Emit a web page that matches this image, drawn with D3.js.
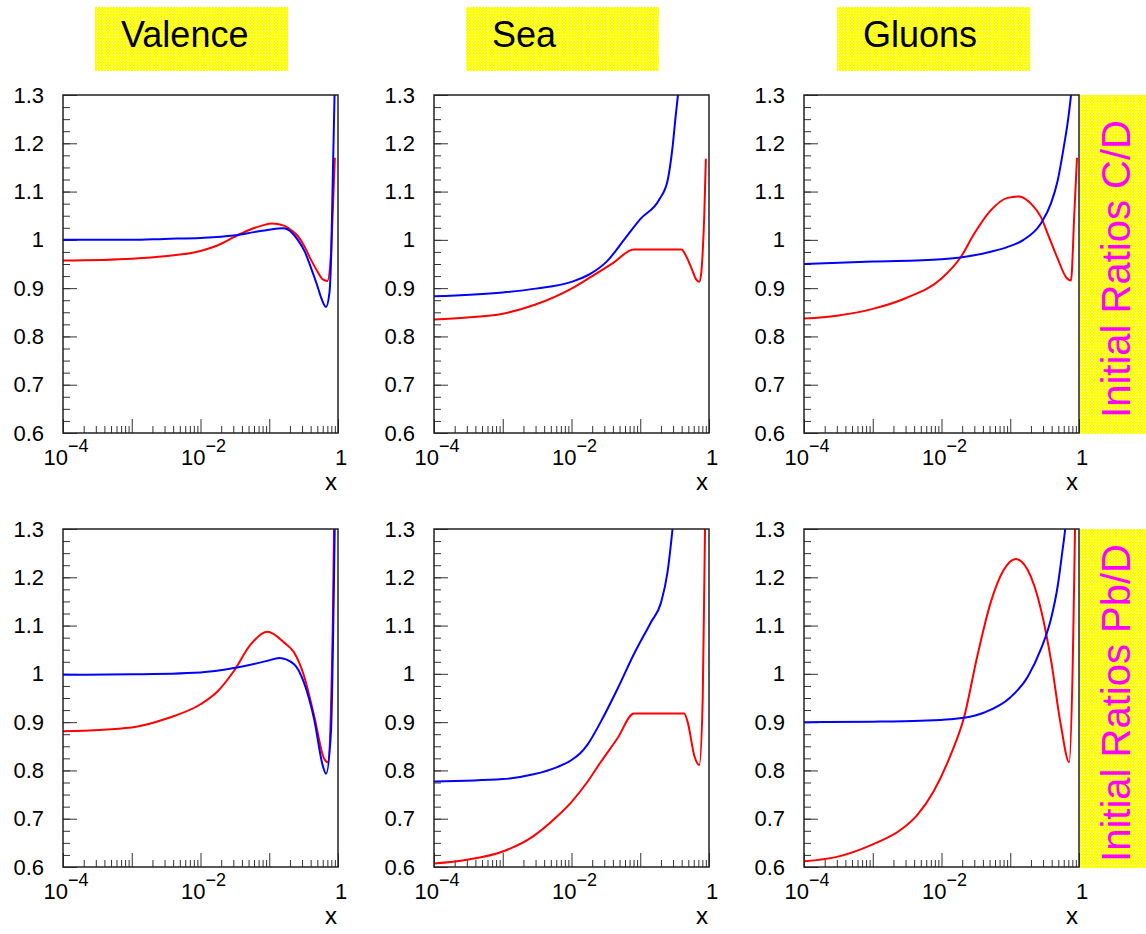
<html lang="en">
<head>
<meta charset="UTF-8">
<title>Initial Ratios</title>
<script src="https://cdn.jsdelivr.net/npm/d3@7"></script>
<style>
  body { margin:0; padding:0; background:#fff; }
  text { font-family: "Liberation Sans", Arial, sans-serif; fill:#000; }
</style>
</head>
<body>
<svg id="chart" width="1146" height="934"></svg>
<script>
// column titles / row labels
var columnTitles = ['Valence', 'Sea', 'Gluons']
var rowLabels = ['Initial Ratios C/D', 'Initial Ratios Pb/D']

// axis ranges and ticks
var xDomain = [1e-4, 1]
var yDomain = [0.6, 1.3]
var yMajor = [0.6, 0.7, 0.8, 0.9, 1.0, 1.1, 1.2, 1.3]
var xLabelled = [1e-4, 1e-2, 1]

// curves, [x, ratio]
var valenceCD_red = [[1e-4,0.957],[1e-3,0.961],[3e-3,0.966],[1e-2,0.977],[2e-2,0.992],[3e-2,1.005],[5e-2,1.02],[8e-2,1.03],[0.11,1.034],[0.16,1.03],[0.21,1.02],[0.26,1.008],[0.33,0.985],[0.4,0.96],[0.5,0.935],[0.6,0.918],[0.7,0.915],[0.79,0.97],[0.84,1.06],[0.9,1.17]]
var valenceCD_blue = [[1e-4,1.0],[1e-3,1.0],[3e-3,1.002],[1e-2,1.004],[3e-2,1.009],[6e-2,1.016],[0.1,1.021],[0.16,1.024],[0.21,1.016],[0.26,1.0],[0.33,0.975],[0.4,0.944],[0.5,0.905],[0.57,0.88],[0.67,0.861],[0.75,0.89],[0.8,0.98],[0.84,1.13],[0.9,1.33]]
var seaCD_red = [[1e-4,0.835],[3e-4,0.839],[1e-3,0.847],[3e-3,0.866],[1e-2,0.899],[2e-2,0.925],[4e-2,0.952],[0.081,0.98],[0.4,0.98],[0.45,0.97],[0.55,0.943],[0.65,0.918],[0.72,0.913],[0.77,0.93],[0.81,0.975],[0.855,1.054],[0.9,1.168]]
var seaCD_blue = [[1e-4,0.883],[1e-3,0.891],[3e-3,0.899],[1e-2,0.913],[1.9e-2,0.93],[3.3e-2,0.956],[5.8e-2,1.0],[0.1,1.043],[0.19,1.084],[0.25,1.123],[0.295,1.192],[0.33,1.261],[0.36,1.31]]
var gluonCD_red = [[1e-4,0.837],[3e-4,0.843],[1e-3,0.857],[3e-3,0.879],[1e-2,0.92],[1.9e-2,0.964],[3e-2,1.013],[5.2e-2,1.061],[9.1e-2,1.087],[0.135,1.09],[0.2,1.075],[0.28,1.047],[0.35,1.013],[0.49,0.961],[0.646,0.923],[0.764,0.916],[0.855,1.054],[0.935,1.17]]
var gluonCD_blue = [[1e-4,0.95],[1e-3,0.955],[1e-2,0.96],[2e-2,0.964],[3e-2,0.968],[5e-2,0.975],[9e-2,0.985],[0.156,1.0],[0.279,1.034],[0.39,1.075],[0.49,1.123],[0.6,1.192],[0.68,1.24],[0.76,1.296],[0.8,1.33]]
var valencePb_red = [[1e-4,0.881],[1e-3,0.889],[3.3e-3,0.908],[1e-2,0.937],[1.75e-2,0.963],[3.06e-2,1.006],[5.37e-2,1.061],[9.4e-2,1.087],[0.164,1.065],[0.23,1.044],[0.32,0.996],[0.45,0.913],[0.63,0.824],[0.706,0.817],[0.836,1.086],[0.88,1.32]]
var valencePb_blue = [[1e-4,0.998],[1e-3,0.999],[1e-2,1.003],[3.06e-2,1.012],[9.4e-2,1.027],[0.14,1.033],[0.23,1.02],[0.32,0.982],[0.45,0.906],[0.6,0.81],[0.67,0.793],[0.79,0.879],[0.88,1.223],[0.9,1.32]]
var seaPb_red = [[1e-4,0.607],[3e-4,0.615],[1e-3,0.632],[2.8e-3,0.664],[6.2e-3,0.705],[9.9e-3,0.734],[1.7e-2,0.776],[2.65e-2,0.817],[4.64e-2,0.866],[8.1e-2,0.918],[0.436,0.918],[0.49,0.9],[0.61,0.831],[0.722,0.811],[0.81,0.948],[0.875,1.3],[0.9,1.4]]
var seaPb_blue = [[1e-4,0.777],[1e-3,0.782],[2.8e-3,0.792],[6.2e-3,0.807],[9.9e-3,0.821],[1.35e-2,0.836],[1.7e-2,0.853],[2.65e-2,0.9],[4.64e-2,0.968],[8.1e-2,1.041],[0.142,1.106],[0.2,1.147],[0.249,1.21],[0.295,1.3],[0.31,1.33]]
var gluonPb_red = [[1e-4,0.612],[3e-4,0.621],[1e-3,0.647],[2.5e-3,0.676],[4.4e-3,0.707],[7.7e-3,0.757],[1.35e-2,0.831],[2.13e-2,0.91],[3.32e-2,1.037],[5.2e-2,1.148],[8.1e-2,1.216],[0.12,1.238],[0.178,1.216],[0.279,1.134],[0.39,1.03],[0.546,0.893],[0.72,0.817],[0.81,1.017],[0.875,1.3],[0.9,1.4]]
var gluonPb_blue = [[1e-4,0.9],[1e-3,0.901],[5e-3,0.903],[1.35e-2,0.906],[2.13e-2,0.909],[4.2e-2,0.92],[0.1,0.951],[0.178,0.993],[0.279,1.051],[0.39,1.113],[0.49,1.182],[0.578,1.258],[0.63,1.3],[0.66,1.33]]

var panels = [
    {row:0, col:0, red:valenceCD_red, blue:valenceCD_blue},
    {row:0, col:1, red:seaCD_red, blue:seaCD_blue},
    {row:0, col:2, red:gluonCD_red, blue:gluonCD_blue},
    {row:1, col:0, red:valencePb_red, blue:valencePb_blue},
    {row:1, col:1, red:seaPb_red, blue:seaPb_blue},
    {row:1, col:2, red:gluonPb_red, blue:gluonPb_blue}
]

var colLeft = [63, 434, 804], rowTop = [95, 529]
var pw = 275, ph = 338

var svg = d3.select('#chart')

// yellow dotted fill
var pat = svg.append('defs').append('pattern')
    .attr('id', 'yel').attr('width', 3).attr('height', 3)
    .attr('patternUnits', 'userSpaceOnUse')
pat.append('rect').attr('width', 3).attr('height', 3).attr('fill', '#ffff00')
pat.append('rect').attr('x', 1).attr('y', 1).attr('width', 1).attr('height', 1).attr('fill', '#ffffc8')
pat.append('rect').attr('x', 0).attr('y', 0).attr('width', 1).attr('height', 1).attr('fill', '#fafa60')

// column titles
columnTitles.forEach(function (t, i) {
    var bx = 95 + i * 371
    svg.append('rect').attr('x', bx).attr('y', 7).attr('width', 193).attr('height', 64).attr('fill', 'url(#yel)')
    svg.append('text').attr('x', bx + 26).attr('y', 47)
        .style('font-size', '36px').text(t)
})

// row labels on the right
rowLabels.forEach(function (t, i) {
    svg.append('rect').attr('x', 1080).attr('y', rowTop[i]).attr('width', 66).attr('height', ph + 1).attr('fill', 'url(#yel)')
    svg.append('text')
        .attr('transform', 'translate(1130,' + (rowTop[i] + ph / 2 + 5) + ') rotate(-90)')
        .style('font-size', '40px').style('fill', '#ff00ff')
        .attr('text-anchor', 'middle')
        .text(t)
})

var yMinor = d3.range(0, 29).map(function (k) { return 0.6 + k * 0.025 })
var xMinor = []
for (var e = -4; e < 0; e++) for (var m = 2; m <= 9; m++) xMinor.push(m * Math.pow(10, e))
var xMajor = [1e-4, 1e-3, 1e-2, 1e-1, 1]

panels.forEach(function (p, idx) {
    var x0 = colLeft[p.col], y0 = rowTop[p.row]
    var g = svg.append('g').attr('transform', 'translate(' + x0 + ',' + y0 + ')')
    var x = d3.scaleLog().domain(xDomain).range([0, pw])
    var y = d3.scaleLinear().domain(yDomain).range([ph, 0])

    g.append('clipPath').attr('id', 'clip' + idx)
        .append('rect').attr('width', pw).attr('height', ph)

    // minor ticks
    g.append('g')
        .call(d3.axisLeft(y).tickValues(yMinor).tickSize(-7).tickFormat(''))
    g.append('g').attr('transform', 'translate(0,' + ph + ')')
        .call(d3.axisBottom(x).tickValues(xMinor).tickSize(-7).tickFormat(''))
    // major ticks
    g.append('g')
        .call(d3.axisLeft(y).tickValues(yMajor).tickSize(-14).tickPadding(19).tickFormat(d3.format('.2~g')))
    g.append('g').attr('transform', 'translate(0,' + ph + ')')
        .call(d3.axisBottom(x).tickValues(xMajor).tickSize(-14).tickFormat(''))

    g.selectAll('.domain').remove()
    g.selectAll('.tick line').attr('stroke', '#333')
    g.selectAll('.tick text').style('font-size', '22px').style('font-family', '"Liberation Sans", Arial, sans-serif')

    // x labels with exponents
    xLabelled.forEach(function (v) {
        var t = g.append('text').attr('x', x(v) + 3).attr('y', ph + 32)
            .attr('text-anchor', 'middle').style('font-size', '22px')
        var ex = Math.round(Math.log10(v))
        if (ex === 0) { t.text('1') } else {
            t.append('tspan').text('10')
            t.append('tspan').attr('dy', -13).style('font-size', '18px').text('\u2212' + (-ex))
        }
    })
    g.append('text').attr('x', pw - 1).attr('y', ph + 57).attr('text-anchor', 'end')
        .style('font-size', '24px').text('x')

    var line = d3.line()
        .x(function (d) { return x(d[0]) })
        .y(function (d) { return y(d[1]) })
        .curve(d3.curveMonotoneX)

    var curves = g.append('g').attr('clip-path', 'url(#clip' + idx + ')')
    curves.append('path').datum(p.red).attr('d', line)
        .attr('fill', 'none').attr('stroke', '#ff0000').attr('stroke-width', 2)
    curves.append('path').datum(p.blue).attr('d', line)
        .attr('fill', 'none').attr('stroke', '#0000ff').attr('stroke-width', 2)

    g.append('rect').attr('width', pw).attr('height', ph)
        .attr('fill', 'none').attr('stroke', '#222').attr('stroke-width', 1.5)
})
</script>
</body>
</html>
